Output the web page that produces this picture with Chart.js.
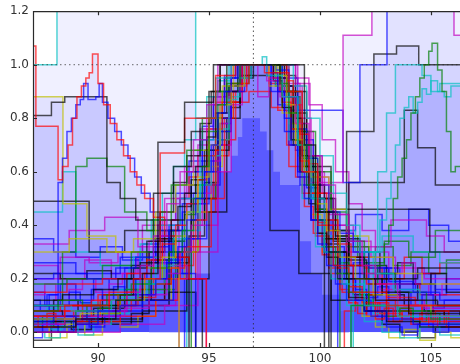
<!DOCTYPE html>
<html>
<head>
<meta charset="utf-8">
<script src="https://cdn.jsdelivr.net/npm/chart.js@4"></script>
<style>
  html, body { margin: 0; padding: 0; background: #fff; overflow: hidden; }
  canvas { display: block; }
</style>
</head>
<body>
<canvas id="profiles" width="460" height="364"></canvas>
<script>
/* ---------- axis limits and ticks ---------- */
const xLimits = [87.07, 106.31];
const yLimits = [-0.055, 1.2];
const xTicks = [90, 95, 100, 105];
const yTicks = [0.0, 0.2, 0.4, 0.6, 0.8, 1.0, 1.2];
const refX = 97;
const refY = 1.0;

/* ---------- stacked core histogram [binStart, value] ---------- */
const coreHist = [[92.3,0.1],[93.8,0.15],[94.45,0.22],[95.05,0.56],[95.4,0.6],[96.0,0.66],[96.3,0.73],[96.5,0.8],[97.3,0.75],[97.6,0.68],[97.9,0.6],[98.2,0.55],[99.1,0.34],[99.6,0.22],[100.1,0.14],[100.9,0.08],[101.3,0],[106.31,0]];

/* ---------- individual profiles [binStart, value] ---------- */
const p01 = [[87.07,0.02],[89,0.05],[90.8,0.12],[92.0,0.22],[92.7,0.71],[93.9,0.86],[95.2,1.0],[98.9,1.0],[99.3,0.7],[99.8,0.45],[100.4,0.3],[101.2,0.2],[102.5,0.12],[104,0.07],[106.31,0.07]];
const p02 = [[87.07,0.06],[88.5,0.1],[90.5,0.15],[91.6,0.2],[92.8,0.67],[93.9,0.8],[95.3,0.96],[96.2,1.0],[97.5,0.97],[98.6,0.9],[99.2,0.6],[99.9,0.4],[100.6,0.25],[101.5,0.15],[103,0.1],[106.31,0.1]];
const p03 = [[87.07,1.0],[88.15,1.4],[94.4,0.8],[95.3,0.95],[96.0,1.0],[97.4,1.03],[97.6,0.96],[98.3,0.88],[99.0,0.7],[99.6,0.5],[100.2,0.3],[101,0.18],[102,0.1],[103.5,0.06],[106.31,0.06]];
const p04 = [[87.07,0.04],[88,0.06],[89,0.03],[90,0.08],[91,0.1],[92,0.14],[92.6,0.2],[93.1,0.26],[93.6,0.32],[94.0,0.42],[94.4,0.5],[94.8,0.6],[95.1,0.7],[95.4,0.82],[95.7,0.9],[96.0,0.95],[96.3,1.0],[97.8,0.97],[98.1,0.9],[98.4,0.8],[98.7,0.7],[99.0,0.6],[99.3,0.5],[99.6,0.42],[99.9,0.33],[100.3,0.25],[100.7,0.18],[101.2,0.12],[102,0.08],[103,0.05],[104.2,0.03],[106.31,0.03]];
const p05 = [[87.07,0.08],[88.2,0.12],[89.3,0.1],[90.4,0.14],[91.5,0.18],[92.4,0.24],[93.2,0.3],[93.8,0.38],[94.3,0.5],[94.7,0.62],[95.0,0.75],[95.4,0.85],[95.8,0.93],[96.4,1.0],[98.2,0.93],[98.6,0.82],[99.0,0.7],[99.4,0.55],[99.8,0.42],[100.2,0.32],[100.7,0.22],[101.3,0.15],[102.2,0.1],[103.5,0.08],[105,0.05],[106.31,0.05]];
const p06 = [[87.07,0.0],[89,0.03],[90.5,0.08],[91.3,0.15],[91.9,0.25],[92.5,0.36],[93.1,0.48],[93.7,0.6],[94.3,0.72],[94.9,0.85],[95.4,1.0],[97.6,0.94],[98.2,0.88],[98.9,0.78],[99.5,0.66],[100.1,0.55],[100.7,0.44],[101.3,0.34],[101.9,0.25],[102.5,0.18],[103.5,0.1],[104.8,0.06],[106.31,0.06]];
const p07 = [[87.07,0.05],[89.2,0.07],[91.0,0.12],[92.1,0.2],[92.9,0.28],[93.5,0.36],[94.0,0.45],[94.5,0.58],[95.0,0.7],[95.5,0.85],[96.0,0.92],[96.6,1.0],[98.0,0.96],[98.5,0.85],[98.9,0.72],[99.3,0.6],[99.8,0.48],[100.3,0.38],[100.9,0.28],[101.6,0.2],[102.4,0.14],[103.5,0.1],[105,0.06],[106.31,0.06]];
const p08 = [[87.07,0.12],[88.4,0.14],[89.8,0.16],[90.9,0.2],[91.9,0.26],[92.7,0.34],[93.3,0.42],[93.9,0.52],[94.4,0.62],[94.9,0.73],[95.3,0.82],[95.8,0.9],[96.3,1.0],[98.2,0.95],[98.5,0.88],[98.9,0.8],[99.2,0.66],[99.7,0.55],[100.2,0.45],[100.7,0.36],[101.3,0.28],[102.0,0.2],[102.8,0.15],[104,0.12],[105.3,0.1],[106.31,0.1]];
const p09 = [[87.07,0.15],[88.6,0.18],[90.2,0.2],[91.3,0.22],[92.2,0.27],[92.9,0.33],[93.5,0.4],[94.0,0.48],[94.5,0.57],[94.9,0.66],[95.3,0.76],[95.6,0.86],[96.0,0.93],[96.8,1.0],[98.5,0.94],[98.8,0.85],[99.1,0.74],[99.5,0.63],[99.9,0.52],[100.3,0.42],[100.8,0.33],[101.4,0.25],[102.1,0.18],[103,0.13],[104.3,0.1],[106.31,0.1]];
const p10 = [[87.07,0.1],[88.8,0.08],[90.6,0.12],[91.8,0.18],[92.6,0.25],[93.4,0.35],[94.0,0.45],[94.6,0.55],[95.1,0.66],[95.5,0.76],[95.9,0.87],[96.3,0.95],[96.9,1.0],[98.8,0.92],[99.4,0.8],[100.0,0.66],[100.6,0.52],[101.2,0.4],[101.8,0.3],[102.5,0.22],[103.3,0.16],[104.5,0.1],[106.31,0.1]];
const p11 = [[87.07,0.2],[88.0,0.22],[89.5,0.2],[90.8,0.24],[91.7,0.28],[92.5,0.32],[93.2,0.38],[93.8,0.45],[94.3,0.52],[94.8,0.6],[95.2,0.7],[95.6,0.8],[96.0,0.9],[96.6,1.0],[98.0,0.98],[98.6,0.88],[99.0,0.76],[99.4,0.65],[99.9,0.55],[100.4,0.45],[100.9,0.37],[101.5,0.3],[102.2,0.24],[103.1,0.19],[104.2,0.15],[105.4,0.12],[106.31,0.12]];
const p12 = [[87.07,0.03],[88.5,0.05],[90,0.06],[91.2,0.09],[92.3,0.14],[93.1,0.22],[93.7,0.3],[94.2,0.4],[94.7,0.52],[95.1,0.64],[95.5,0.78],[95.9,0.9],[96.4,1.0],[97.2,0.88],[97.7,0.95],[98.6,1.0],[98.9,0.92],[99.2,0.8],[99.6,0.66],[100.1,0.52],[100.6,0.4],[101.2,0.3],[101.9,0.22],[102.7,0.16],[103.6,0.12],[104.7,0.09],[106.31,0.09]];
const p13 = [[87.07,0.18],[88.6,0.2],[90.2,0.25],[91.5,0.3],[92.5,0.42],[93.3,0.55],[94.0,0.68],[94.7,0.8],[95.3,0.9],[95.8,1.0],[98.6,0.9],[99.2,0.75],[99.8,0.6],[100.5,0.45],[101.2,0.32],[102.2,0.22],[103.4,0.15],[104.8,0.1],[106.31,0.1]];
const p14 = [[87.07,0.0],[89.0,0.03],[90.2,0.07],[91.0,0.14],[91.6,0.24],[92.2,0.34],[92.8,0.45],[93.4,0.56],[94.0,0.66],[94.6,0.78],[95.1,0.9],[95.5,1.0],[97.9,0.94],[98.3,0.84],[98.7,0.72],[99.1,0.6],[99.5,0.48],[99.9,0.37],[100.3,0.28],[100.8,0.2],[101.3,0.13],[102.0,0.08],[103,0.04],[104.5,0.02],[106.31,0.02]];
const p15 = [[87.07,0.08],[88.3,0.1],[89.7,0.12],[90.9,0.1],[91.8,0.13],[92.6,0.18],[93.3,0.24],[93.9,0.32],[94.4,0.42],[94.9,0.55],[95.3,0.68],[95.7,0.8],[96.1,0.9],[96.5,1.0],[97.9,0.95],[98.3,0.86],[98.7,0.76],[99.1,0.64],[99.5,0.52],[99.9,0.41],[100.3,0.32],[100.8,0.24],[101.3,0.17],[101.9,0.11],[102.7,0.07],[103.7,0.05],[105,0.04],[106.31,0.04]];
const p16 = [[87.07,0.3],[88.7,0.35],[90.4,0.3],[91.6,0.35],[92.6,0.45],[93.5,0.55],[94.3,0.68],[95.0,0.8],[95.6,0.92],[96.1,1.0],[97.7,0.92],[98.3,0.82],[98.9,0.7],[99.6,0.58],[100.4,0.46],[101.2,0.36],[102.2,0.28],[103.3,0.22],[104.6,0.18],[106.31,0.18]];
const p17 = [[87.07,1.07],[87.2,0.77],[88.2,0.57],[88.4,0.62],[88.65,0.7],[88.85,0.8],[89.05,0.88],[89.25,0.92],[89.45,0.95],[89.6,0.97],[89.75,1.04],[90.0,0.93],[90.25,0.85],[90.55,0.78],[90.85,0.72],[91.15,0.66],[91.45,0.6],[91.75,0.55],[92.1,0.5],[92.5,0.43],[93.0,0.36],[93.5,0.28],[94.1,0.2],[94.88,-0.1],[106.31,-0.1]];
const p18 = [[87.07,0.1],[87.7,0.14],[88.2,0.56],[88.4,0.65],[88.6,0.75],[88.8,0.8],[89.0,0.85],[89.2,0.87],[89.35,0.93],[89.55,0.87],[89.9,0.88],[90.05,0.93],[90.2,0.86],[90.45,0.8],[90.75,0.75],[91.05,0.7],[91.35,0.65],[91.65,0.58],[91.95,0.52],[92.35,0.45],[92.8,0.38],[93.3,0.3],[93.8,0.22],[94.4,-0.1],[106.31,-0.1]];
const p19 = [[87.07,0.81],[87.9,0.86],[88.5,0.88],[90.4,0.56],[91.0,0.5],[91.7,0.42],[92.5,0.35],[93.4,0.28],[94.1,-0.1],[106.31,-0.1]];
const p20 = [[87.07,0.88],[88.42,0.48],[89.5,0.36],[90.8,0.3],[92.2,0.24],[93.65,-0.1],[106.31,-0.1]];
const p21 = [[87.07,0.1],[88.4,0.3],[89.0,0.62],[89.5,0.65],[90.4,0.62],[91.2,0.45],[92.2,0.38],[93.4,0.3],[94.2,-0.1],[106.31,-0.1]];
const p22 = [[87.07,0.33],[88.7,0.38],[90.3,0.43],[91.8,0.32],[93.0,0.25],[94.0,0.2],[94.88,-0.1],[106.31,-0.1]];
const p23 = [[87.07,0.0],[91,0.03],[93,0.1],[94.5,0.3],[95.4,0.6],[96.0,0.85],[96.5,1.0],[99.0,0.93],[99.55,0.56],[101.04,1.11],[102.34,1.4],[106.04,1.11],[106.31,1.11]];
const p24 = [[87.07,0.05],[89.5,0.08],[92.0,0.12],[93.4,0.22],[94.2,0.35],[94.9,0.55],[95.5,0.78],[96.0,0.92],[96.5,1.0],[98.3,0.95],[99.0,0.83],[101.04,0.56],[101.8,1.0],[103.02,1.4],[106.31,1.4]];
const p25 = [[87.07,-0.1],[101.4,0.1],[102.2,0.18],[102.6,0.25],[102.9,0.33],[103.1,0.4],[103.3,0.5],[103.5,0.58],[103.7,0.65],[103.9,0.72],[104.1,0.82],[104.3,0.88],[104.5,0.95],[104.7,1.0],[104.9,1.05],[105.05,1.08],[105.3,0.98],[105.5,0.9],[105.7,0.75],[105.9,0.6],[106.1,0.62],[106.31,0.62]];
const p26 = [[87.07,-0.1],[101.5,0.15],[102,0.2],[102.4,0.3],[102.7,0.42],[103,0.5],[103.2,0.6],[103.4,0.7],[103.6,0.8],[103.8,0.84],[104,0.88],[104.2,0.82],[104.4,0.86],[104.6,0.91],[104.8,0.89],[105,0.94],[105.3,0.9],[105.6,0.88],[105.9,0.92],[106.31,0.92]];
const p27 = [[87.07,-0.1],[101.4,0.1],[102,0.3],[102.6,0.6],[103.0,0.82],[103.4,1.0],[104.6,0.96],[105,0.9],[105.4,0.93],[106.31,0.93]];
const p28 = [[87.07,-0.1],[100.4,0.3],[101.2,0.75],[102.43,1.04],[103.45,1.07],[104.45,1.0],[106.31,1.0]];
const p29 = [[87.07,0.1],[91,0.12],[93.2,0.15],[94.4,-0.1],[100.2,0.35],[101.3,0.56],[103.8,0.83],[104.4,0.69],[105.2,0.55],[106.31,0.55]];
const p30 = [[87.07,-0.02],[87.5,0.03],[88.2,0.0],[88.9,0.05],[89.6,0.02],[90.3,0.06],[91.0,0.1],[91.7,0.14],[92.4,0.2],[93.1,0.27],[93.8,0.35],[94.5,0.48],[95.0,0.6],[95.5,0.75],[96.0,0.9],[96.5,1.0],[97.8,0.9],[98.4,0.75],[99.0,0.58],[99.6,0.42],[100.2,0.3],[100.9,0.2],[101.6,0.12],[102.3,0.06],[103.0,0.02],[103.7,-0.01],[104.4,0.03],[105.1,0.0],[105.8,0.04],[106.31,0.04]];
const p31 = [[87.07,0.0],[87.6,-0.02],[88.3,0.02],[89.1,-0.01],[89.8,0.03],[90.6,0.07],[91.4,0.12],[92.2,0.18],[93.0,0.25],[93.8,0.38],[94.6,0.55],[95.3,0.72],[95.9,0.88],[96.4,1.0],[98.0,0.92],[98.6,0.72],[99.2,0.5],[99.8,0.32],[100.5,0.2],[101.2,0.1],[102.0,0.04],[102.8,0.0],[103.6,-0.02],[104.5,0.02],[105.4,-0.01],[106.31,-0.01]];
const p32 = [[87.07,0.02],[89,0.04],[91,0.06],[92.6,0.12],[93.6,0.2],[94.4,0.32],[95.1,0.5],[95.7,0.72],[96.2,0.9],[96.7,1.0],[98.2,0.9],[98.7,0.72],[99.2,0.52],[99.8,0.36],[100.4,0.24],[101.0,0.15],[101.6,0.1],[102.2,0.14],[102.5,0.08],[103.0,0.12],[103.4,0.06],[104.0,0.1],[104.6,0.04],[105.2,0.08],[105.8,0.05],[106.31,0.05]];
const p33 = [[87.07,0.22],[88.3,0.2],[89.5,0.23],[90.6,0.2],[91.5,0.25],[92.3,0.3],[93.0,0.38],[93.6,0.47],[94.2,0.57],[94.8,0.68],[95.4,0.8],[95.9,0.92],[96.5,1.0],[98.4,0.96],[98.9,0.82],[99.4,0.66],[100.0,0.5],[100.6,0.38],[101.3,0.27],[102.1,0.2],[103.0,0.14],[103.8,0.1],[104.7,0.08],[105.6,0.06],[106.31,0.06]];
const p34 = [[87.07,0.04],[92,0.08],[94,0.2],[95,0.45],[95.8,0.8],[96.4,1.0],[98.2,0.9],[99.4,0.62],[100.5,0.46],[104.95,0.3],[106.31,0.3]];
const p35 = [[87.07,0.06],[91,0.1],[93.5,0.2],[94.6,0.4],[95.4,0.7],[96.0,0.92],[96.7,1.0],[98.4,0.85],[99.2,0.6],[100.2,0.4],[101.5,0.32],[103.2,0.42],[104.8,0.36],[105.6,0.3],[106.31,0.3]];
const p36 = [[87.07,0.49],[89.6,0.3],[91.2,0.38],[92.5,0.52],[93.4,0.62],[94.2,0.75],[95.0,0.9],[95.5,1.0],[98.0,0.92],[98.8,0.7],[99.6,0.5],[100.7,0.35],[101.8,0.25],[103,0.2],[104.4,0.24],[106.31,0.24]];
const p37 = [[87.07,0.45],[88.4,0.6],[89.0,0.3],[90.1,0.25],[91.6,0.28],[92.8,0.4],[93.7,0.5],[94.6,0.72],[95.3,0.9],[95.9,1.0],[98.3,0.85],[99.0,0.66],[99.7,0.5],[100.6,0.38],[101.6,0.3],[102.8,0.36],[104.2,0.3],[105.4,0.26],[106.31,0.26]];
const p38 = [[87.07,0.12],[87.4,0.08],[87.8,0.14],[88.2,0.1],[88.7,0.15],[89.2,0.11],[89.7,0.16],[90.2,0.12],[90.7,0.17],[91.2,0.14],[91.7,0.2],[92.2,0.24],[92.7,0.3],[93.2,0.4],[93.7,0.5],[94.2,0.6],[94.7,0.72],[95.2,0.85],[95.7,0.95],[96.2,1.0],[97.6,0.96],[98.1,0.85],[98.6,0.7],[99.1,0.55],[99.6,0.42],[100.1,0.32],[100.6,0.25],[101.1,0.2],[101.6,0.16],[102.1,0.13],[102.6,0.17],[103.1,0.12],[103.6,0.15],[104.1,0.1],[104.6,0.14],[105.1,0.09],[105.6,0.12],[106.31,0.12]];
const p39 = [[87.07,0.03],[87.5,0.06],[88.0,0.02],[88.5,0.05],[89.0,0.08],[89.5,0.04],[90.0,0.09],[90.6,0.12],[91.2,0.16],[91.8,0.13],[92.3,0.2],[92.9,0.27],[93.4,0.34],[93.9,0.44],[94.4,0.55],[94.9,0.68],[95.4,0.8],[95.9,0.92],[96.4,1.0],[98.3,0.9],[98.8,0.76],[99.3,0.6],[99.8,0.46],[100.3,0.35],[100.8,0.26],[101.3,0.2],[101.8,0.14],[102.4,0.1],[103.0,0.06],[103.6,0.09],[104.2,0.04],[104.8,0.07],[105.4,0.03],[106.31,0.03]];
const p40 = [[87.07,0.14],[87.6,0.18],[88.1,0.12],[88.7,0.16],[89.3,0.2],[89.9,0.15],[90.5,0.18],[91.1,0.22],[91.7,0.28],[92.3,0.34],[92.9,0.42],[93.5,0.5],[94.0,0.6],[94.5,0.7],[95.0,0.8],[95.5,0.9],[96.0,1.0],[98.9,0.95],[99.5,0.85],[100.1,0.72],[100.7,0.6],[101.3,0.48],[101.9,0.38],[102.5,0.3],[103.1,0.22],[103.7,0.26],[104.3,0.18],[104.9,0.14],[105.5,0.18],[106.31,0.18]];
const p41 = [[87.07,0.06],[87.3,0.02],[87.7,0.07],[88.1,0.03],[88.5,0.08],[88.9,0.04],[89.3,0.1],[89.7,0.06],[90.1,0.12],[90.5,0.08],[90.9,0.14],[91.3,0.1],[91.7,0.16],[92.1,0.22],[92.5,0.28],[92.9,0.35],[93.3,0.42],[93.7,0.5],[94.1,0.58],[94.5,0.66],[94.9,0.76],[95.3,0.86],[95.7,0.95],[96.1,1.0],[97.7,0.93],[98.1,0.83],[98.5,0.7],[98.9,0.58],[99.3,0.47],[99.7,0.37],[100.1,0.29],[100.5,0.22],[100.9,0.16],[101.3,0.11],[101.7,0.07],[102.1,0.1],[102.5,0.05],[102.9,0.09],[103.3,0.04],[103.7,0.08],[104.1,0.03],[104.5,0.07],[104.9,0.02],[105.3,0.06],[105.7,0.02],[106.31,0.02]];
const p42 = [[87.07,0.02],[87.8,-0.02],[88.6,0.03],[89.4,-0.01],[90.2,0.04],[91.0,0.02],[91.8,0.06],[92.6,0.12],[93.3,0.2],[93.9,0.3],[94.5,0.45],[95.1,0.62],[95.6,0.8],[96.1,0.93],[96.6,1.0],[98.1,0.92],[98.6,0.78],[99.1,0.6],[99.6,0.44],[100.1,0.3],[100.7,0.2],[101.3,0.12],[101.9,0.06],[102.5,0.02],[103.1,-0.02],[103.8,0.01],[104.5,-0.03],[105.2,0.0],[105.9,-0.02],[106.31,-0.02]];
const p43 = [[87.07,0.08],[88.4,0.06],[89.8,0.09],[91.2,0.12],[92.4,0.18],[93.3,0.26],[94.1,0.36],[94.8,0.5],[95.4,0.68],[95.9,0.84],[96.4,0.95],[97.0,1.0],[98.5,0.9],[99.0,0.75],[99.5,0.6],[100.0,0.45],[100.6,0.34],[101.3,0.25],[102.0,0.3],[102.7,0.22],[103.5,0.26],[104.2,0.18],[105.0,0.22],[105.7,0.15],[106.31,0.15]];
const p44 = [[87.07,0.26],[89.0,0.22],[91.0,0.28],[92.6,0.36],[93.8,0.48],[94.7,0.64],[95.4,0.82],[96.0,0.95],[96.6,1.0],[98.2,0.92],[98.9,0.72],[99.7,0.5],[100.6,0.38],[101.6,0.44],[102.8,0.38],[104.0,0.46],[104.9,0.4],[105.8,0.34],[106.31,0.34]];
const p45 = [[87.07,0.06],[89.5,0.1],[92,0.16],[93.5,0.3],[94.5,0.5],[95.3,0.75],[96.0,0.93],[96.8,1.0],[98.4,0.88],[99.1,0.65],[99.9,0.45],[100.8,0.34],[102.0,0.26],[102.9,0.34],[104.0,0.28],[105.2,0.38],[106.31,0.38]];
const p46 = [[87.07,0.1],[90,0.14],[92.5,0.2],[93.7,0.3],[94.6,0.45],[95.3,0.66],[95.9,0.86],[96.5,1.0],[98.3,0.9],[98.9,0.7],[99.6,0.52],[100.4,0.38],[101.2,0.28],[102.0,0.24],[102.8,0.2],[103.8,0.28],[104.6,0.22],[105.4,0.26],[106.31,0.26]];
const p47 = [[87.07,0.02],[87.4,0.05],[87.9,0.01],[88.4,0.04],[88.9,0.0],[89.4,0.03],[89.9,0.06],[90.4,0.1],[90.9,0.16],[91.4,0.24],[91.9,0.33],[92.4,0.42],[92.9,0.52],[93.4,0.62],[93.9,0.72],[94.4,0.8],[94.9,0.88],[95.4,0.94],[96.0,1.0],[98.0,0.95],[98.5,0.82],[99.0,0.66],[99.5,0.5],[100.0,0.36],[100.6,0.25],[101.2,0.17],[101.8,0.12],[102.4,0.07],[103.0,0.1],[103.6,0.05],[104.2,0.08],[104.8,0.04],[105.4,0.06],[106.31,0.06]];
const p48 = [[87.07,0.2],[88.3,0.28],[89.6,0.26],[90.9,0.3],[92.0,0.4],[93.0,0.5],[93.9,0.62],[94.6,0.76],[95.2,0.88],[95.8,1.0],[98.5,0.93],[99.1,0.75],[99.7,0.58],[100.4,0.44],[101.3,0.34],[102.3,0.28],[103.4,0.24],[104.7,0.2],[106.31,0.2]];
const p49 = [[87.07,-0.03],[87.9,0.04],[88.8,0.01],[89.7,0.05],[90.6,0.03],[91.5,0.07],[92.3,0.12],[93.0,0.2],[93.6,0.3],[94.2,0.42],[94.8,0.56],[95.4,0.72],[95.9,0.86],[96.4,0.96],[96.9,1.0],[98.3,0.92],[98.8,0.78],[99.3,0.62],[99.8,0.46],[100.3,0.33],[100.9,0.22],[101.5,0.14],[102.1,0.08],[102.8,0.03],[103.6,0.0],[104.4,-0.02],[105.2,0.02],[106.31,0.02]];
const p50 = [[87.07,0.35],[88.0,0.3],[89.0,0.28],[90.1,0.32],[91.1,0.27],[92.0,0.33],[92.8,0.42],[93.5,0.52],[94.1,0.64],[94.7,0.77],[95.2,0.88],[95.7,0.96],[96.2,1.0],[97.9,0.95],[98.4,0.83],[98.9,0.68],[99.4,0.54],[99.9,0.42],[100.5,0.32],[101.1,0.25],[101.8,0.2],[102.6,0.24],[103.4,0.18],[104.3,0.22],[105.2,0.16],[106.31,0.16]];
const p51 = [[87.07,0.05],[92,0.1],[93.2,0.3],[94.2,0.55],[95.0,0.8],[95.6,0.9],[96.4,0.96],[97.75,0.38],[99.05,0.22],[100.5,0.12],[102,0.08],[106.31,0.06]];
const p52 = [[87.07,0.08],[91.5,0.12],[93,0.25],[94.3,0.5],[95.2,0.7],[95.9,0.86],[96.8,0.9],[97.8,0.84],[98.6,0.62],[99.6,0.42],[100.8,0.28],[102.5,0.18],[104.5,0.14],[106.31,0.14]];
const p53 = [[87.07,0.15],[87.6,0.1],[88.3,0.18],[89.0,0.12],[89.8,0.2],[90.5,0.16],[91.2,0.24],[91.9,0.3],[92.6,0.26],[93.3,0.34],[93.9,-0.1],[106.31,-0.1]];
const p54 = [[87.07,0.06],[88.0,0.12],[89.1,0.08],[90.2,0.14],[91.3,0.2],[92.4,0.27],[93.2,0.38],[94.0,0.2],[94.7,-0.1],[106.31,-0.1]];
const p55 = [[87.07,0.25],[88.2,0.2],[89.4,0.27],[90.6,0.22],[91.8,0.3],[92.7,0.4],[93.65,-0.1],[106.31,-0.1]];
const p56 = [[87.07,0.04],[87.7,0.09],[88.5,0.05],[89.3,0.11],[90.1,0.07],[90.9,0.13],[91.7,0.19],[92.5,0.15],[93.2,0.22],[94.0,-0.1],[106.31,-0.1]];
const p57 = [[87.07,-0.1],[100.8,0.2],[101.5,0.26],[102.2,0.18],[102.9,0.24],[103.6,0.16],[104.3,0.22],[105.0,0.14],[105.7,0.2],[106.31,0.2]];
const p58 = [[87.07,-0.1],[100.5,0.3],[101.2,0.22],[102.0,0.14],[102.8,0.2],[103.6,0.12],[104.4,0.18],[105.2,0.1],[106.31,0.1]];
const p59 = [[87.07,-0.1],[101.1,0.08],[101.6,0.13],[102.1,0.06],[102.6,0.11],[103.1,0.04],[103.6,0.09],[104.1,0.05],[104.6,0.1],[105.1,0.03],[105.6,0.08],[106.31,0.08]];
const p60 = [[87.07,-0.1],[100.9,0.36],[101.7,0.28],[102.5,0.32],[103.3,0.25],[104.1,0.3],[104.9,0.22],[105.7,0.27],[106.31,0.27]];

const profiles = [p01,p02,p03,p04,p05,p06,p07,p08,p09,p10,p11,p12,p13,p14,p15,p16,p17,p18,p19,p20,p21,p22,p23,p24,p25,p26,p27,p28,p29,p30,p31,p32,p33,p34,p35,p36,p37,p38,p39,p40,p41,p42,p43,p44,p45,p46,p47,p48,p49,p50,p51,p52,p53,p54,p55,p56,p57,p58,p59,p60];
const profileColors = ['k','r','c','b','g','m','y','k','r','c','b','m','g','k','r','y','r','b','k','y','g','m','m','b','g','c','c','k','k','b','c','r','k','k','m','k','c','b','g','m','r','y','k','b','g','r','c','m','k','b','k','r','b','k','m','c','b','k','r','g'];

/* matplotlib classic colour cycle */
const RGB = { b: '0,0,255', g: '0,128,0', r: '255,0,0', c: '0,191,191', m: '191,0,191', y: '191,191,0', k: '0,0,0' };

// profiles that get a translucent area under them
const shaded = new Set([p01, p03, p13, p16, p17, p18, p19, p20, p21, p22, p23, p24, p25, p26, p27, p28, p29, p34, p36, p37, p44, p50, p53, p54, p55, p56, p57, p58, p59, p60]);

const toPoints = pairs => pairs.map(([x, y]) => ({ x, y }));

const datasets = [
  // reference lines
  { data: toPoints([[refX, yLimits[0]], [refX, yLimits[1]]]), borderColor: 'rgba(40,40,40,0.8)', borderWidth: 1, borderDash: [1.5, 3], fill: false, stepped: false },
  { data: toPoints([[xLimits[0], refY], [xLimits[1], refY]]), borderColor: 'rgba(40,40,40,0.7)', borderWidth: 1, borderDash: [1.5, 3], fill: false, stepped: false },
  // core histogram
  { data: toPoints(coreHist), borderWidth: 0, borderColor: 'rgba(0,0,0,0)', backgroundColor: '#5a5aff', fill: 'origin', stepped: 'before' }
];

profiles.forEach((p, i) => {
  const rgb = RGB[profileColors[i]];
  datasets.push({
    data: toPoints(p),
    borderColor: `rgba(${rgb},0.68)`,
    borderWidth: 1.5,
    fill: shaded.has(p) ? { target: 'origin', above: 'rgba(0,0,255,0.058)', below: 'rgba(0,0,0,0)' } : false,
    stepped: 'before'
  });
});

/* inward ticks and spines */
const frame = {
  id: 'frame',
  afterDraw(chart) {
    const { ctx, chartArea: a, scales: { x, y } } = chart;
    ctx.save();
    ctx.strokeStyle = '#2a2a2a';
    ctx.lineWidth = 1.2;
    ctx.beginPath();
    ctx.moveTo(a.right + 2, a.top + 0.5);
    ctx.lineTo(a.left + 0.5, a.top + 0.5);
    ctx.lineTo(a.left + 0.5, a.bottom + 0.5);
    ctx.lineTo(a.right + 2, a.bottom + 0.5);
    x.ticks.forEach(t => {
      const px = Math.round(x.getPixelForValue(t.value)) + 0.5;
      ctx.moveTo(px, a.bottom); ctx.lineTo(px, a.bottom - 4);
      ctx.moveTo(px, a.top); ctx.lineTo(px, a.top + 4);
    });
    y.ticks.forEach(t => {
      const py = Math.round(y.getPixelForValue(t.value)) + 0.5;
      ctx.moveTo(a.left, py); ctx.lineTo(a.left + 4, py);
    });
    ctx.stroke();
    ctx.restore();
  }
};

Chart.defaults.font.family = '"DejaVu Sans", sans-serif';
Chart.defaults.font.size = 12;
Chart.defaults.color = '#333';

new Chart(document.getElementById('profiles'), {
  type: 'line',
  data: { datasets },
  options: {
    responsive: false,
    devicePixelRatio: 1,
    animation: false,
    layout: { padding: { top: 8, right: 0, left: 0, bottom: 0 } },
    elements: { point: { radius: 0 }, line: { tension: 0 } },
    plugins: {
      legend: { display: false },
      tooltip: { enabled: false },
      filler: { drawTime: 'beforeDatasetsDraw' }
    },
    scales: {
      x: {
        type: 'linear',
        min: xLimits[0],
        max: xLimits[1],
        grid: { display: false, drawTicks: false },
        border: { display: false },
        afterBuildTicks: s => { s.ticks = xTicks.map(v => ({ value: v })); },
        afterFit: s => { s.height = 17; },
        ticks: { padding: 5, maxRotation: 0, callback: v => String(v) }
      },
      y: {
        type: 'linear',
        min: yLimits[0],
        max: yLimits[1],
        grid: { display: false, drawTicks: false },
        border: { display: false },
        afterBuildTicks: s => { s.ticks = yTicks.map(v => ({ value: v })); },
        afterFit: s => { s.width = 33; },
        ticks: { padding: 4, callback: v => Number(v).toFixed(1) }
      }
    }
  },
  plugins: [frame]
});
</script>
</body>
</html>
